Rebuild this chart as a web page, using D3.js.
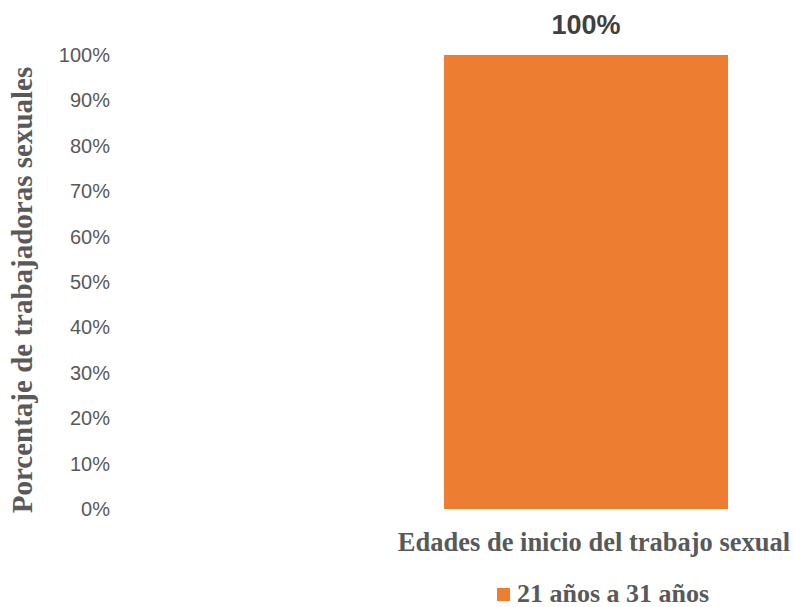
<!DOCTYPE html>
<html>
<head>
<meta charset="utf-8">
<script src="https://cdn.jsdelivr.net/npm/d3@7"></script>
<style>
  html, body { margin: 0; padding: 0; background: #ffffff; }
  svg { display: block; }
</style>
</head>
<body>
<svg id="chart" width="794" height="607"></svg>
<script>
// Chart data
const categories = ["Edades de inicio del trabajo sexual"];
const seriesNames = ["21 años a 31 años"];
const seriesValues = [1.00];
const yTicks = [0, 0.1, 0.2, 0.3, 0.4, 0.5, 0.6, 0.7, 0.8, 0.9, 1.0];

const svg = d3.select("#chart");
const plot = { left: 382, right: 790, top: 55, bottom: 509 };
const barColor = "#ED7D31";
const serif = "'Liberation Serif', 'Times New Roman', serif";
const sans = "'Liberation Sans', Arial, sans-serif";

const y = d3.scaleLinear().domain([0, 1]).range([plot.bottom, plot.top]);
const x = d3.scaleBand().domain(categories).range([plot.left, plot.right])
  .paddingInner(0.304).paddingOuter(0.152);

// Y axis: labels only, no domain line or tick marks
const yAxis = d3.axisLeft(y).tickValues(yTicks).tickFormat(d3.format(".0%"))
  .tickSize(0).tickPadding(0);
const gy = svg.append("g").attr("transform", "translate(110,0)").call(yAxis);
gy.select(".domain").remove();
gy.selectAll("text")
  .attr("fill", "#595959")
  .style("font-family", sans)
  .style("font-size", "20px");

// Bars
const data = categories.map((c, i) => ({ cat: c, value: seriesValues[i] }));
svg.append("g").selectAll("rect").data(data).join("rect")
  .attr("x", d => x(d.cat))
  .attr("y", d => y(d.value))
  .attr("width", x.bandwidth())
  .attr("height", d => y(0) - y(d.value))
  .attr("fill", barColor);

// Value labels
svg.append("g").selectAll("text").data(data).join("text")
  .attr("x", d => x(d.cat) + x.bandwidth() / 2)
  .attr("y", d => y(d.value) - 21)
  .attr("text-anchor", "middle")
  .attr("fill", "#404040")
  .style("font-family", sans)
  .style("font-weight", "bold")
  .style("font-size", "27px")
  .text(d => d3.format(".0%")(d.value));

// X axis title
svg.append("text")
  .attr("x", 594)
  .attr("y", 551)
  .attr("text-anchor", "middle")
  .attr("fill", "#595959")
  .style("font-family", serif)
  .style("font-weight", "bold")
  .style("font-size", "26.5px")
  .text(categories[0]);

// Y axis title
svg.append("text")
  .attr("transform", "translate(32,290) rotate(-90)")
  .attr("text-anchor", "middle")
  .attr("fill", "#595959")
  .style("font-family", serif)
  .style("font-weight", "bold")
  .style("font-size", "29px")
  .text("Porcentaje de trabajadoras sexuales");

// Legend
const legend = svg.append("g").attr("transform", "translate(497,588)");
legend.selectAll("rect").data(seriesNames).join("rect")
  .attr("x", 0).attr("y", 0).attr("width", 13).attr("height", 13)
  .attr("fill", barColor);
legend.selectAll("text").data(seriesNames).join("text")
  .attr("x", 20).attr("y", 14)
  .attr("fill", "#595959")
  .style("font-family", serif)
  .style("font-weight", "bold")
  .style("font-size", "26px")
  .text(d => d);
</script>
</body>
</html>
